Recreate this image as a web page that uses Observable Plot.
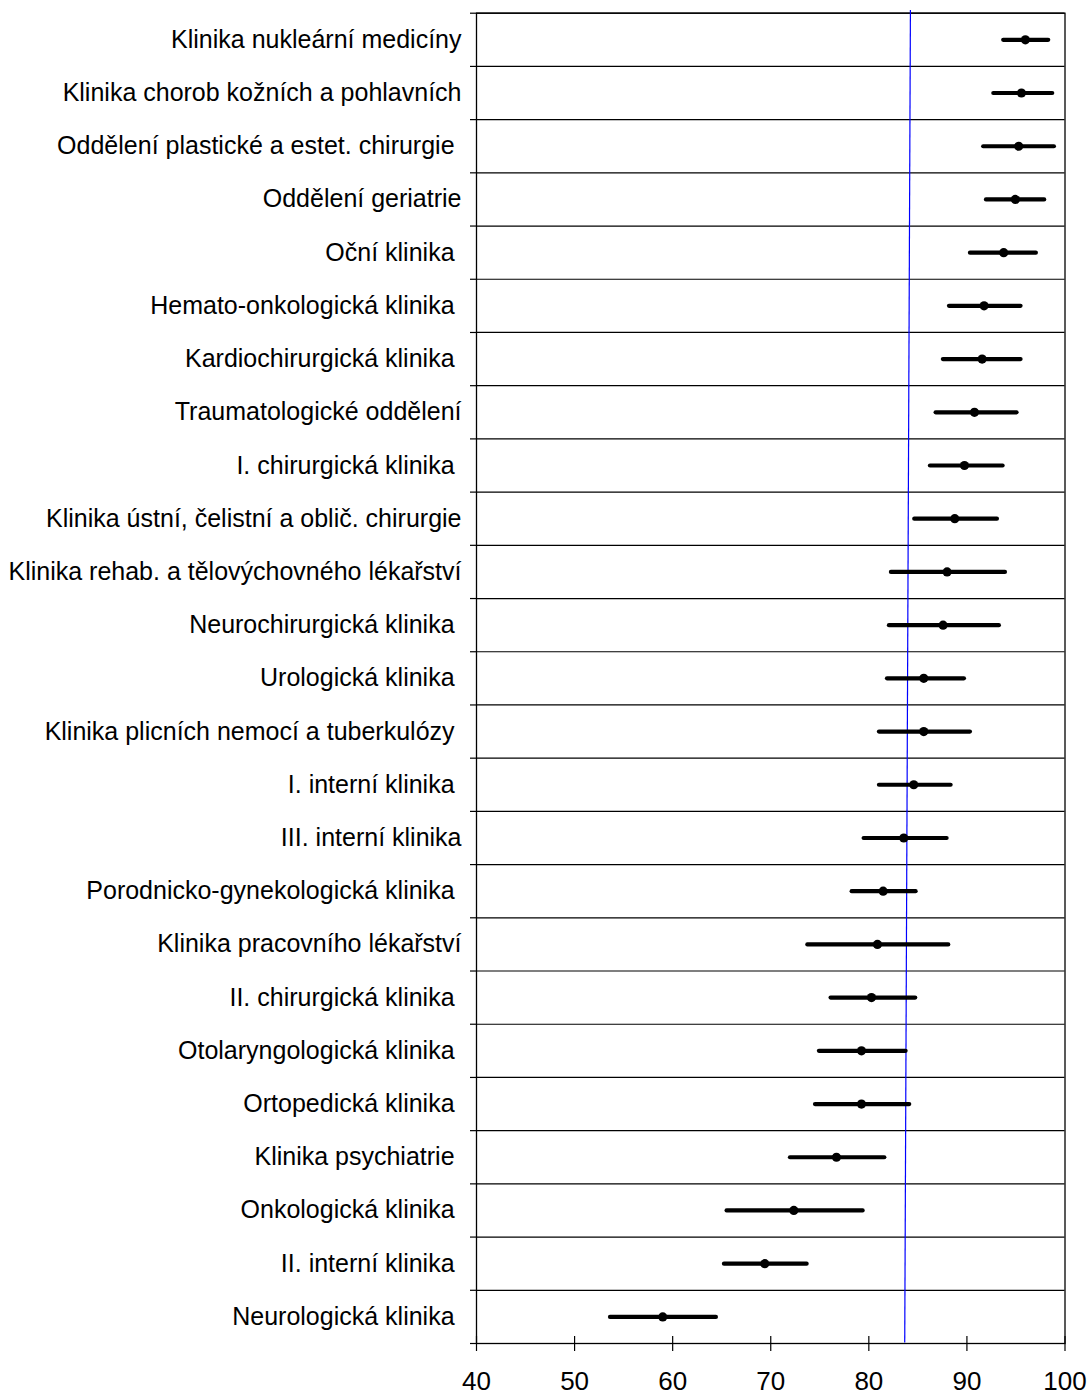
<!DOCTYPE html>
<html>
<head>
<meta charset="utf-8">
<script src="https://cdn.jsdelivr.net/npm/d3@7"></script>
<script src="https://cdn.jsdelivr.net/npm/@observablehq/plot@0.6"></script>
<style>
  html, body { margin: 0; padding: 0; background: #fff; }
  svg text { white-space: pre; }
</style>
</head>
<body>
<div id="chart"></div>
<script>
const categories = [
  "Klinika nukleární medicíny",
  "Klinika chorob kožních a pohlavních",
  "Oddělení plastické a estet. chirurgie ",
  "Oddělení geriatrie",
  "Oční klinika ",
  "Hemato-onkologická klinika ",
  "Kardiochirurgická klinika ",
  "Traumatologické oddělení",
  "I. chirurgická klinika ",
  "Klinika ústní, čelistní a oblič. chirurgie",
  "Klinika rehab. a tělovýchovného lékařství",
  "Neurochirurgická klinika ",
  "Urologická klinika ",
  "Klinika plicních nemocí a tuberkulózy ",
  "I. interní klinika ",
  "III. interní klinika",
  "Porodnicko-gynekologická klinika ",
  "Klinika pracovního lékařství",
  "II. chirurgická klinika ",
  "Otolaryngologická klinika ",
  "Ortopedická klinika ",
  "Klinika psychiatrie ",
  "Onkologická klinika ",
  "II. interní klinika ",
  "Neurologická klinika "
];
const means = [95.96, 95.56, 95.28, 94.94, 93.75, 91.75, 91.55, 90.77, 89.75, 88.76, 87.98, 87.57, 85.6, 85.6, 84.58, 83.56, 81.46, 80.88, 80.27, 79.25, 79.25, 76.7, 72.35, 69.39, 58.99];
const lower = [93.75, 92.74, 91.71, 91.99, 90.36, 88.22, 87.6, 86.86, 86.28, 84.68, 82.3, 82.1, 81.9, 81.08, 81.08, 79.52, 78.3, 73.78, 76.15, 74.96, 74.56, 72.01, 65.55, 65.28, 53.66];
const upper = [98.34, 98.75, 98.92, 97.93, 97.08, 95.52, 95.52, 95.11, 93.69, 93.11, 93.93, 93.31, 89.75, 90.36, 88.39, 87.98, 84.82, 88.15, 84.78, 83.8, 84.17, 81.63, 79.42, 73.71, 64.46];
const xTicks = [40, 50, 60, 70, 80, 90, 100];
// reference (average) line: value at top and bottom of the plot
const referenceTop = 84.24;
const referenceBottom = 83.66;

const rows = categories.map((name, i) => ({name, pos: i + 0.5, mean: means[i], lo: lower[i], hi: upper[i]}));
const n = categories.length;
const rowEdges = d3.range(n + 1);
const refLine = [{x1: referenceTop, x2: referenceBottom, y1: -0.06, y2: n - 0.02}];

const chart = Plot.plot({
  width: 1088,
  height: 1399,
  marginLeft: 476,
  marginRight: 23.5,
  marginTop: 12.7,
  marginBottom: 56,
  style: {fontFamily: "'Liberation Sans', Arial, sans-serif", color: "#000", background: "#fff"},
  x: {domain: [40, 100]},
  y: {domain: [n, 0]},
  marks: [
    Plot.ruleY(rowEdges, {stroke: "#000", strokeWidth: 1.2}),
    Plot.frame({stroke: "#000", strokeWidth: 1.3}),
    Plot.axisY({ticks: rowEdges, tickSize: 6, tickFormat: () => "", stroke: "#000", strokeWidth: 1.2, label: null}),
    Plot.axisY({ticks: rows.map(d => d.pos), tickSize: 0, tickPadding: 15, tickFormat: v => categories[Math.floor(v)], fontSize: 25, fill: "#000", label: null}),
    Plot.axisX({ticks: xTicks, tickSize: 15, dy: -7, tickFormat: () => "", stroke: "#000", strokeWidth: 1.2, label: null}),
    Plot.axisX({ticks: xTicks, tickSize: 0, tickPadding: 28, tickFormat: d => String(d), fontSize: 26, fill: "#000", label: null}),
    Plot.link(refLine, {x1: "x1", x2: "x2", y1: "y1", y2: "y2", stroke: "#0000ff", strokeWidth: 1.2}),
    Plot.ruleY(rows, {y: "pos", x1: "lo", x2: "hi", stroke: "#000", strokeWidth: 4.2, strokeLinecap: "round"}),
    Plot.dot(rows, {x: "mean", y: "pos", r: 4.6, fill: "#000", stroke: "none"})
  ]
});
document.getElementById("chart").appendChild(chart);
</script>
</body>
</html>
